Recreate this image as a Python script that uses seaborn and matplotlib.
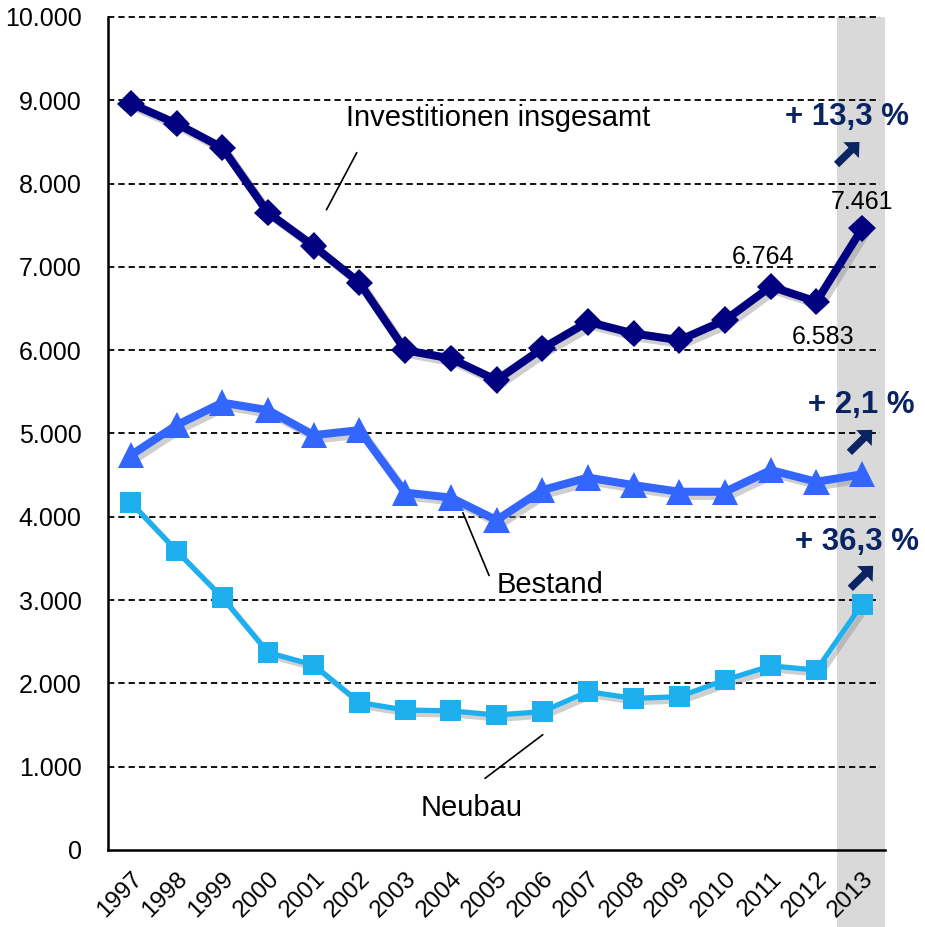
import matplotlib
matplotlib.use("Agg")
import matplotlib.pyplot as plt
import matplotlib.patheffects as pe
from matplotlib.ticker import FuncFormatter, MultipleLocator
import seaborn as sns
import pandas as pd

years = list(range(1997, 2014))
invest = [8960, 8720, 8430, 7650, 7250, 6810, 6000, 5900, 5640, 6020,
          6340, 6200, 6120, 6360, 6764, 6583, 7461]
bestand = [4740, 5100, 5370, 5280, 4980, 5040, 4290, 4230, 3960, 4320,
           4470, 4380, 4300, 4300, 4560, 4420, 4510]
neubau = [4170, 3590, 3030, 2370, 2220, 1770, 1680, 1670, 1620, 1660,
          1900, 1820, 1840, 2040, 2210, 2160, 2950]
pct_labels = ["+ 13,3 %", "+ 2,1 %", "+ 36,3 %"]

df = pd.DataFrame({"Jahr": years, "Investitionen insgesamt": invest,
                   "Bestand": bestand, "Neubau": neubau})

sns.set_style("white")
plt.rcParams["font.family"] = ["Liberation Sans", "DejaVu Sans"]
plt.rcParams["text.color"] = "black"
plt.rcParams["xtick.color"] = "black"
plt.rcParams["ytick.color"] = "black"
plt.rcParams["axes.labelcolor"] = "black"

fig = plt.figure(figsize=(9.25, 9.27), dpi=100)
ax = fig.add_axes([0.1168, 0.0831, 0.8400, 0.8986])

navy = "#000080"
blue = "#3366FF"
cyan = "#1EB0EE"
txtnavy = "#0A2463"

ax.axvspan(2012.45, 2013.5, ymin=-0.1, ymax=1.0, color="#D9D9D9", zorder=0,
           clip_on=False, lw=0)

for v in range(1000, 10001, 1000):
    ax.axhline(v, xmin=0, xmax=0.994, color="black", lw=1.3, ls=(0, (3.5, 2.2)),
               zorder=1, clip_on=False)

shadow = [pe.SimpleLineShadow(offset=(3, -3), shadow_color="#888888", alpha=0.4), pe.Normal()]

sns.lineplot(data=df, x="Jahr", y="Neubau", ax=ax, color=cyan, lw=3.8,
             marker="s", markersize=15, markeredgewidth=0, path_effects=shadow, zorder=3)
sns.lineplot(data=df, x="Jahr", y="Bestand", ax=ax, color=blue, lw=5.8,
             marker="^", markersize=19, markeredgewidth=0, path_effects=shadow, zorder=4)
sns.lineplot(data=df, x="Jahr", y="Investitionen insgesamt", ax=ax, color=navy, lw=5.8,
             marker="D", markersize=14, markeredgewidth=0, path_effects=shadow, zorder=5)

ax.set_xlim(1996.5, 2013.5)
ax.set_ylim(0, 10000)
ax.set_xlabel("")
ax.set_ylabel("")
ax.yaxis.set_major_locator(MultipleLocator(1000))
ax.yaxis.set_major_formatter(FuncFormatter(lambda v, p: f"{int(v):,}".replace(",", ".")))
ax.set_xticks(years)
ax.set_xticklabels([str(y) for y in years], rotation=45, ha="right", va="top",
                   rotation_mode="anchor", fontsize=17.5)
ax.set_xticks([y - 0.5 for y in years] + [2013.5], minor=True)
ax.tick_params(axis="x", which="major", length=0, pad=13, labelsize=17.5)
ax.tick_params(axis="x", which="minor", length=8, width=1.5, color="black", direction="out")
ax.tick_params(axis="y", length=6, width=1.5, color="black", direction="out", labelsize=18, pad=13)

for s in ["top", "right"]:
    ax.spines[s].set_visible(False)
for s in ["left", "bottom"]:
    ax.spines[s].set_color("black")
    ax.spines[s].set_linewidth(1.8)
ax.grid(False)

fs = 21
ax.annotate("Investitionen insgesamt", xy=(2001.25, 7656), xytext=(2005.03, 8784),
            fontsize=fs, ha="center", va="center", color="black", zorder=6)
ax.annotate("", xy=(2001.25, 7656), xytext=(2001.97, 8400),
            arrowprops=dict(arrowstyle="-", color="black", lw=1.2), zorder=6)
ax.annotate("Bestand", xy=(2004.24, 4080), xytext=(2005.01, 3180),
            fontsize=fs, ha="left", va="center", color="black", zorder=6)
ax.annotate("", xy=(2004.24, 4080), xytext=(2004.86, 3264),
            arrowprops=dict(arrowstyle="-", color="black", lw=1.2), zorder=6)
ax.annotate("Neubau", xy=(2006.06, 1404), xytext=(2004.46, 504),
            fontsize=fs, ha="center", va="center", color="black", zorder=6)
ax.annotate("", xy=(2006.06, 1404), xytext=(2004.70, 840),
            arrowprops=dict(arrowstyle="-", color="black", lw=1.2), zorder=6)

fmt = lambda v: f"{v:,}".replace(",", ".")
ax.text(2010.83, 7116, fmt(invest[14]), fontsize=18, ha="center", va="center", color="black", zorder=6)
ax.text(2012.14, 6156, fmt(invest[15]), fontsize=18, ha="center", va="center", color="black", zorder=6)
ax.text(2013.0, 7776, fmt(invest[16]), fontsize=18, ha="center", va="center", color="black", zorder=6)

pct_pos = [(2012.67, 8796, 2012.69, 8364), (2012.97, 5340, 2012.97, 4908),
           (2012.89, 3696, 2012.99, 3276)]
for lab, (x, yt, xa, ya) in zip(pct_labels, pct_pos):
    ax.text(x, yt, lab, fontsize=22.5, fontweight="bold", color=txtnavy,
            ha="center", va="center", zorder=6, clip_on=False)
    ax.annotate("", xy=(xa + 0.25, ya + 135), xytext=(xa - 0.25, ya - 135),
                arrowprops=dict(arrowstyle="simple,head_length=0.42,head_width=0.8,tail_width=0.27",
                                lw=0, color=txtnavy, shrinkA=0, shrinkB=0,
                                mutation_scale=20),
                zorder=6)

fig.savefig("out.png", dpi=100)
